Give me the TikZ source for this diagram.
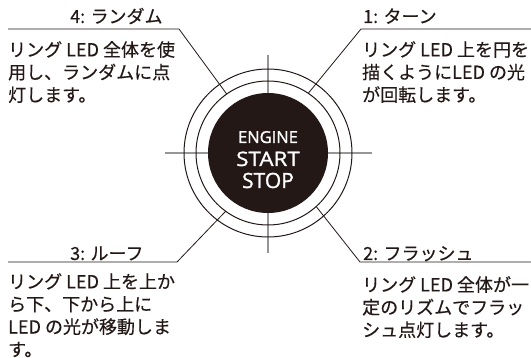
\documentclass[tikz,border=0pt]{standalone}
\usepackage{fontspec}
\setmainfont{Noto Sans CJK JP}[FakeBold=0.35]
\newfontfamily\btnfont[FakeBold=1.2]{Open Sans}
\newfontfamily\btnwide[FakeBold=1.2, FakeStretch=1.12]{Open Sans}
\usetikzlibrary{
    positioning,
    calc
}
\definecolor{printInk}{RGB}{35, 24, 21}
\definecolor{printGray}{RGB}{150, 150, 150}

\tikzset{
    ring/.style={circle, draw=printInk, line width=1pt, inner sep=0pt, outer sep=0pt},
    leader/.style={draw=printInk, line width=0.8pt},
    cross/.style={draw=printGray, line width=1.4pt},
    modetitle/.style={anchor=base west, inner sep=0pt, text=printInk,
        font=\fontsize{18}{23}\selectfont},
    modebody/.style={anchor=north west, inner sep=0pt, align=left, text=printInk,
        font=\fontsize{18}{22.6}\selectfont},
    btnlabel/.style={anchor=base, inner sep=0pt, text=white}
}

\begin{document}
\begin{tikzpicture}[x=1pt, y=-1pt]
    \useasboundingbox (0,0) rectangle (531,358);
    \coordinate (C) at (268,153);

    % crosshair behind the button
    \coordinate (crossW) at (165,153);
    \coordinate (crossE) at (372,153);
    \coordinate (crossN) at (268,55);
    \coordinate (crossS) at (268,253);
    \draw[cross] (crossW) -- (crossE);
    \draw[cross] (crossN) -- (crossS);

    % rings and button
    \node[ring, minimum size=168pt] (ringOut) at (C) {};
    \node[ring, minimum size=144pt] (ringIn) at (C) {};
    \node[circle, fill=printInk, minimum size=120pt, inner sep=0pt] (btn) at (C) {};
    \node[btnlabel, font=\btnfont\fontsize{16.5}{16}\selectfont] (engine) at (268,143) {ENGINE};
    \node[btnlabel, font=\btnwide\fontsize{20}{20}\selectfont] (start) at (268,166) {START};
    \node[btnlabel, font=\btnfont\fontsize{21}{21}\selectfont] (stop) at (268,188) {STOP};

    % leaders with underlines
    \coordinate (tlStart) at (8,29);
    \coordinate (tlEnd) at (179,29);
    \coordinate (trStart) at (361,29);
    \coordinate (trEnd) at (531,29);
    \coordinate (blStart) at (8,262);
    \coordinate (blEnd) at (177,262);
    \coordinate (brStart) at (360,262);
    \coordinate (brEnd) at (531,262);
    \draw[leader] (tlStart) -- (tlEnd) -- (ringIn.125);
    \draw[leader] (ringIn.56) -- (trStart) -- (trEnd);
    \draw[leader] (blStart) -- (blEnd) -- (ringIn.234);
    \draw[leader] (ringIn.312) -- (brStart) -- (brEnd);

    % mode texts
    \node[modetitle] (title4) at (70,23) {4: ランダム};
    \node[modebody] (body4) at (8,41) {リング LED 全体を使\\用し、ランダムに点\\灯します。};
    \node[modetitle] (title1) at (363,23) {1: ターン};
    \node[modebody] (body1) at (362,41) {リング LED 上を円を\\描くようにLED の光\\が回転します。};
    \node[modetitle] (title3) at (70,260) {3: ルーフ};
    \node[modebody] (body3) at (8,273) {リング LED 上を上か\\ら下、下から上に\\LED の光が移動しま\\す。};
    \node[modetitle] (title2) at (363,260) {2: フラッシュ};
    \node[modebody] (body2) at (362,276) {リング LED 全体が一\\定のリズムでフラッ\\シュ点灯します。};
\end{tikzpicture}
\end{document}
